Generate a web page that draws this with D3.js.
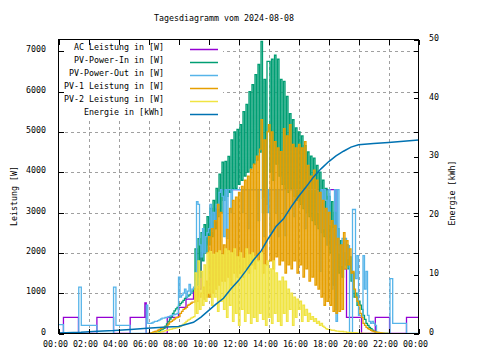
<!DOCTYPE html>
<html><head><meta charset="utf-8">
<script src="https://cdn.jsdelivr.net/npm/d3@7"></script>
<style>
body{margin:0;background:#fff}
svg{display:block}
text{font-family:"DejaVu Sans Mono",monospace;font-size:8.3px;fill:#000}
</style></head><body>
<svg id="c" width="480" height="360"></svg>
<script>
// ---------- data ----------
const chartTitle = "Tagesdiagramm vom 2024-08-08";
const seriesNames = ["AC Leistung in [W]","PV-Power-In in [W]","PV-Power-Out in [W]","PV-1 Leistung in [W]","PV-2 Leistung in [W]","Energie in [kWh]"];
const seriesColors = ["#9400d3","#009e73","#56b4e9","#e69f00","#f0e442","#0072b2"];
const xTickHours = [0,2,4,6,8,10,12,14,16,18,20,22,24];
const xTickLabels = ["00:00","02:00","04:00","06:00","08:00","10:00","12:00","14:00","16:00","18:00","20:00","22:00","00:00"];
const yTicks = [0,1000,2000,3000,4000,5000,6000,7000];
const y2Ticks = [0,10,20,30,40,50];

// daytime samples: from 06:00 to 22:00, one value every 0.1 h
const dayStart = 6, dayStep = 0.1;

const pvInDay = [
0,0,0,0,5,10,30,60,90,110,
130,180,240,300,360,420,500,560,610,650,
700,740,780,820,870,900,930,960,1000,1050,
1100,2100,1200,2350,1400,2500,1800,2700,2000,2900,
2200,3100,2400,3300,2600,3600,2900,3950,3000,4250,
3300,4270,3400,4390,3500,4800,3600,5000,3600,5060,
3700,5180,3800,5500,3900,5680,4000,6000,4100,6170,
4200,6420,4300,6670,4500,7240,3000,6300,3200,6750,
6750,4000,6800,3800,6900,4200,6800,3900,6300,3700,
6250,3600,5880,3500,5450,3600,5300,3400,5100,3300,
5000,3200,4900,3100,4660,3000,4500,2900,4400,2800,
4350,2700,4170,2600,4000,2500,3800,2400,3600,2200,
3400,2000,3270,1200,3000,600,2600,1500,2300,1400,
2000,1700,2200,1600,1900,1300,1500,900,1000,700,
800,700,600,450,350,250,200,150,120,80,
60,40,30,20,10,0,0,0,0,0,
0];

const pvOutEarly = [[0,220],[0.33,0],[1.35,1150],[1.52,200],[2.56,0],[3.67,1150],[3.83,200],[4.78,0],[5.85,700],[5.95,250]];
const pvOutDay = [
250,250,260,280,300,300,320,340,360,380,
380,400,400,420,430,450,460,470,480,500,
1400,900,950,1000,1100,900,1050,1215,1000,1100,
1150,1300,3270,3200,2200,1900,2600,2000,2400,2500,
2600,3200,2530,3000,2800,3200,3100,3500,3570,3400,
2400,3570,2360,3570,3570,3000,3570,3570,3570,3570,
3570,3570,3000,3570,3570,3570,2600,3570,3570,3570,
3570,3570,3570,2800,3570,3570,3350,2400,3570,3000,
3570,2500,3570,3570,3000,3570,2400,3570,3570,3570,
3570,2430,3570,3570,3570,3570,3570,2900,3570,3570,
3570,3570,3570,3570,2600,3570,3570,3570,3570,3570,
3570,3570,3550,3000,1540,3570,2600,3570,3300,2200,
3570,2700,1100,2600,3570,300,3570,2000,1690,2360,
1610,2360,1860,2180,0,0,3075,3075,1360,1930,
450,450,400,1930,1100,1540,450,300,250,300,
250,200,0,0,0,0,0,0,0,0,
0];
const pvOutLate = [[22.1,1360],[22.28,250],[23.2,0],[24,0]];

const pv1Day = [
0,10,20,40,50,60,80,100,120,140,
150,160,180,230,280,300,330,360,390,400,
420,500,550,600,620,650,700,720,750,780,
780,1100,800,1160,900,1000,1150,850,1300,900,
2400,900,2600,1000,2800,1100,3200,1200,3000,1300,
2200,1300,2580,1400,3100,1200,3300,1500,3380,1400,
3500,1500,3650,1400,3800,1600,3900,1500,4070,1700,
4200,1600,4400,1800,4570,5300,1500,4800,1700,5000,
5180,1800,5000,1600,4760,1900,4600,1700,4510,1800,
5080,1500,4900,1700,5180,1600,4690,1800,4600,1500,
4690,1700,4600,1400,4760,1600,4170,1300,3900,1400,
4050,1200,3800,1100,3500,900,3300,700,3100,800,
3000,700,2800,550,2680,500,2360,550,2200,600,
2500,1600,2300,1700,2100,1500,1540,1100,900,800,
700,500,400,250,200,150,120,100,80,60,
50,40,30,25,20,15,10,0,0,0,
0];

const pv2Day = [
0,0,0,0,0,10,20,30,40,50,
60,70,80,90,100,110,120,130,140,150,
160,180,200,230,260,300,330,350,380,400,
420,1500,500,1800,600,1540,700,1700,800,2000,
1000,2030,700,1960,900,2000,550,2050,800,1950,
600,2100,400,2050,700,2000,300,2100,500,1900,
200,2000,600,1860,300,2100,500,1950,250,2000,
400,1900,300,1800,500,2000,350,1700,200,1800,
400,1600,250,1800,500,1500,300,1300,200,1400,
500,1300,300,1100,600,1000,200,900,400,850,
600,800,300,700,450,600,300,500,350,420,
300,370,250,300,200,250,180,150,120,100,
100,90,80,80,70,60,60,50,50,50,
40,40,30,30,30,20,20,20,20,10,
10,10,10,0,0,0,0,0,0,0,
0,0,0,0,0,0,0,0,0,0,
0];

const acSteps = [[0,0],[0.33,400],[1.33,0],[2.56,400],[3.67,0],[4.78,400],[5.76,760],[5.85,0],[7.25,400],
[8.0,650],[8.5,850],[9.0,1100],[9.5,2000],[10.0,2600],[10.5,3100],[10.8,3570],[18.0,3570],[18.5,2200],[19.0,1600],
[19.2,400],[20.2,0],[21.12,400],[22.07,0],[23.2,400],[24,400]];

const energy = [[0,0.1],[1.5,0.2],[2.6,0.4],[3.7,0.5],[4.8,0.7],[5.9,0.9],[7.2,1.1],[8.0,1.2],[9.0,1.9],[9.5,2.8],
[10.0,3.9],[10.5,5.0],[11.0,6.0],[11.5,7.6],[12.0,9.0],[12.5,10.7],[13.0,12.5],[13.5,14.0],[14.0,16.2],[14.5,18.2],
[15.0,19.5],[15.5,21.5],[16.0,23.3],[16.5,24.9],[17.0,26.6],[17.5,28.0],[18.0,29.2],[18.5,30.2],[19.0,31.0],[19.5,31.7],
[20.0,32.1],[21.0,32.3],[22.0,32.5],[23.0,32.7],[24.0,32.9]];

// ---------- drawing ----------
const W = 480, H = 360, L = 58.5, R = 418.5, T = 39.5, B = 333.5;
const x = d3.scaleLinear().domain([0,24]).range([L,R]);
const y = d3.scaleLinear().domain([0,7290]).range([B,T]);
const y2 = d3.scaleLinear().domain([0,50]).range([B,T]);
const svg = d3.select("#c");
svg.append("rect").attr("width",W).attr("height",H).attr("fill","#fff");

// grid
const gridX = svg.append("g").attr("transform",`translate(0,${B})`)
  .call(d3.axisBottom(x).tickValues(xTickHours.slice(1,-1)).tickSize(-(B-T)).tickFormat(""));
const gridY = svg.append("g").attr("transform",`translate(${L},0)`)
  .call(d3.axisLeft(y).tickValues(yTicks.slice(1)).tickSize(-(R-L)).tickFormat(""));
[gridX,gridY].forEach(g=>{
  g.select(".domain").remove();
  g.selectAll("line").attr("stroke","#a0a0a0").attr("stroke-dasharray","3,3").attr("shape-rendering","crispEdges");
});

// legend box (opaque)
svg.append("rect").attr("x",L+0.5).attr("y",T+0.5).attr("width",164).attr("height",79).attr("fill","#fff");

// data
svg.append("clipPath").attr("id","pc").append("rect").attr("x",L).attr("y",T).attr("width",R-L).attr("height",B-T);
const plot = svg.append("g").attr("clip-path","url(#pc)");
const dayPts = vals => vals.map((v,i)=>[dayStart + i*dayStep, v]);
const lineW = d3.line().x(d=>x(d[0])).y(d=>y(d[1])).curve(d3.curveStepAfter);
const lineE = d3.line().x(d=>x(d[0])).y(d=>y2(d[1]));
const seriesData = [
  acSteps,
  dayPts(pvInDay),
  pvOutEarly.concat(dayPts(pvOutDay), pvOutLate),
  dayPts(pv1Day),
  dayPts(pv2Day)
];
seriesData.forEach((d,i)=>{
  plot.append("path").attr("d",lineW(d)).attr("fill","none").attr("stroke",seriesColors[i])
    .attr("stroke-width",1.3);
});
plot.append("path").attr("d",lineE(energy)).attr("fill","none").attr("stroke",seriesColors[5]).attr("stroke-width",1.5);

// axes
const axB = svg.append("g").attr("transform",`translate(0,${B})`)
  .call(d3.axisBottom(x).tickValues(xTickHours).tickSize(-5).tickFormat((d,i)=>xTickLabels[i]));
axB.selectAll("text").attr("x",-3.5).attr("y",13).attr("dy",null);
svg.append("g").attr("transform",`translate(0,${T})`)
  .call(d3.axisTop(x).tickValues(xTickHours).tickSize(-5).tickFormat("")).attr("class","ax");
const axL = svg.append("g").attr("transform",`translate(${L},0)`)
  .call(d3.axisLeft(y).tickValues(yTicks).tickSize(-5).tickPadding(12.5).tickFormat(d3.format("d")));
axL.selectAll("text").attr("y",0.7).attr("dy",null);
svg.append("g").attr("transform",`translate(${R},0)`)
  .call(d3.axisRight(y).tickValues(yTicks).tickSize(-5).tickFormat("")).attr("class","ax");
const axR = svg.append("g").attr("transform",`translate(${R},0)`)
  .call(d3.axisRight(y2).tickValues(y2Ticks).tickSize(-5).tickPadding(10.5).tickFormat(d3.format("d")));
axR.selectAll("text").attr("y",0.7).attr("dy",null);
axB.attr("class","ax"); axL.attr("class","ax"); axR.attr("class","ax");
svg.selectAll("g.ax").each(function(){
  const g = d3.select(this);
  g.select(".domain").remove();
  g.selectAll("line").attr("stroke","#000").attr("shape-rendering","crispEdges");
  g.selectAll("text").attr("fill","#000");
  g.attr("font-family",null).attr("font-size",null);
});
svg.append("rect").attr("x",L).attr("y",T).attr("width",R-L).attr("height",B-T)
  .attr("fill","none").attr("stroke","#000").attr("shape-rendering","crispEdges");

// legend
const lg = svg.append("g");
seriesNames.forEach((n,i)=>{
  const yy = 47 + 13*i;
  lg.append("text").attr("x",164).attr("y",yy+3).attr("text-anchor","end").text(n);
  lg.append("line").attr("x1",190).attr("x2",218).attr("y1",yy+2.5).attr("y2",yy+2.5)
    .attr("stroke",seriesColors[i]).attr("stroke-width",1.5);
});

// titles
svg.append("text").attr("x",224).attr("y",21).attr("text-anchor","middle").text(chartTitle);
svg.append("text").attr("transform","translate(13.5,196) rotate(-90)").attr("y",3).attr("text-anchor","middle").text("Leistung [W]");
svg.append("text").attr("transform","translate(451.5,193) rotate(-90)").attr("y",3).attr("text-anchor","middle").text("Energie [kWh]");
</script>
</body></html>
